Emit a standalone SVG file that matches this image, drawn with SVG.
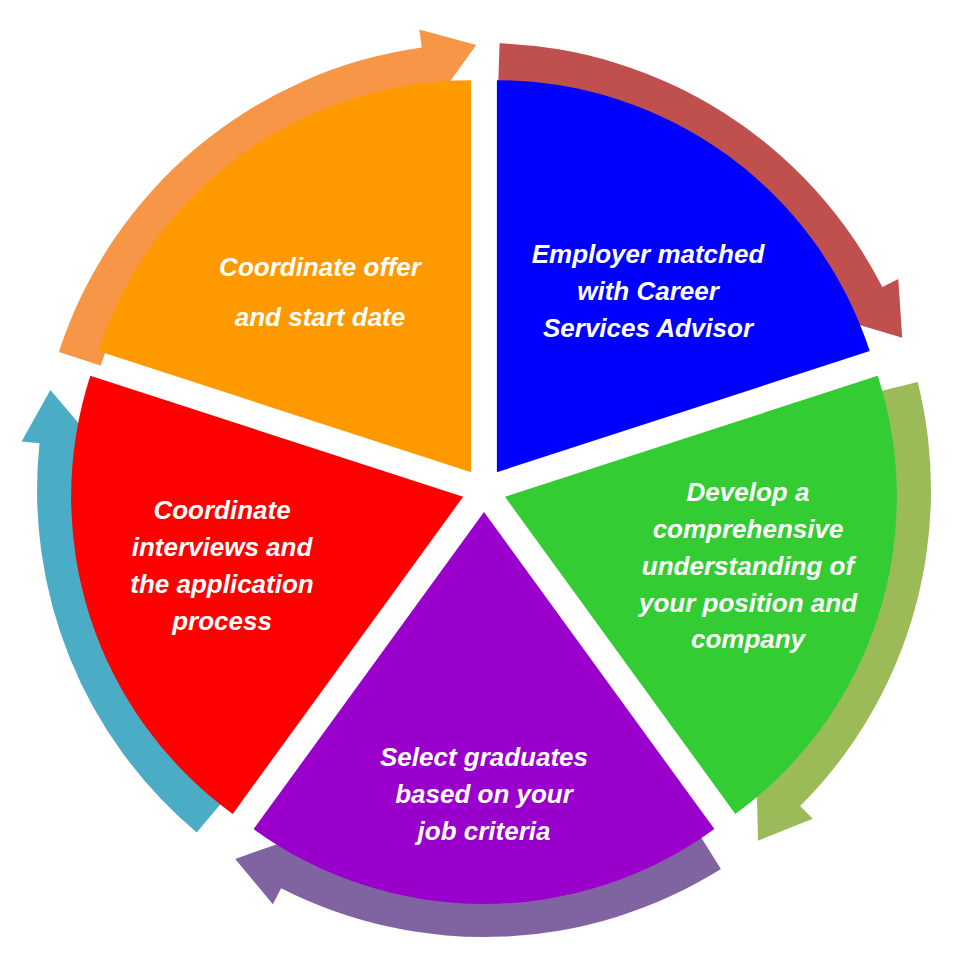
<svg xmlns="http://www.w3.org/2000/svg" width="958" height="969" viewBox="0 0 958 969">
<style>
text{font-family:"Liberation Sans",Arial,sans-serif;font-weight:bold;font-style:italic;font-size:26px;fill:#fff;text-anchor:middle}
</style>
<rect width="958" height="969" fill="#fff"/>
<g id="connectors">
<path fill="#F79646" d="M58.9,351.9 A447,447 0 0 1 421.8,47.4 L419.3,29.5 L476.2,45.1 L430.4,108.8 L427.9,90.9 A403,403 0 0 0 100.7,365.5 Z"/>
<path fill="#C0504D" d="M499.6,43.3 A447,447 0 0 1 882.3,287.1 L898.3,278.9 L902.2,337.8 L827.0,315.2 L843.1,307.0 A403,403 0 0 0 498.1,87.2 Z"/>
<path fill="#9BBB59" d="M917.7,381.9 A447,447 0 0 1 800.1,806.1 L812.8,818.8 L758.0,840.7 L756.2,762.2 L769.0,775.0 A403,403 0 0 0 875.0,392.5 Z"/>
<path fill="#8064A2" d="M720.9,869.1 A447,447 0 0 1 281.1,888.3 L272.9,904.3 L235.2,858.9 L309.2,833.0 L301.0,849.1 A403,403 0 0 0 697.6,831.7 Z"/>
<path fill="#4BACC6" d="M196.7,832.4 A447,447 0 0 1 39.5,443.3 L21.6,441.4 L50.4,389.9 L101.1,449.8 L83.2,447.9 A403,403 0 0 0 225.0,798.7 Z"/>
</g>
<g id="blue"><path fill="#0000FF" d="M496.9,472.2 L496.9,80.2 A392,392 0 0 1 869.7,351.1 Z"/>
<text x="648" y="263">Employer matched</text><text x="648" y="300">with Career</text><text x="648" y="337">Services Advisor</text></g>
<g id="green"><path fill="#33CC33" d="M504.9,496.8 L877.7,375.7 A392,392 0 0 1 735.3,813.9 Z"/>
<text x="748" y="501">Develop a</text><text x="748" y="538">comprehensive</text><text x="748" y="575">understanding of</text><text x="748" y="612">your position and</text><text x="748" y="648">company</text></g>
<g id="purple"><path fill="#9900CC" d="M484,512 L714.4,829.1 A392,392 0 0 1 253.6,829.1 Z"/>
<text x="484" y="766">Select graduates</text><text x="484" y="803">based on your</text><text x="484" y="840">job criteria</text></g>
<g id="red"><path fill="#FF0000" d="M463.1,496.8 L232.7,813.9 A392,392 0 0 1 90.3,375.7 Z"/>
<text x="222" y="519">Coordinate</text><text x="222" y="556">interviews and</text><text x="222" y="593">the application</text><text x="222" y="630">process</text></g>
<g id="orange"><path fill="#FF9900" d="M471.1,472.2 L98.3,351.1 A392,392 0 0 1 471.1,80.2 Z"/>
<text x="320" y="276">Coordinate  offer</text><text x="320" y="326">and start date</text></g>
</svg>
